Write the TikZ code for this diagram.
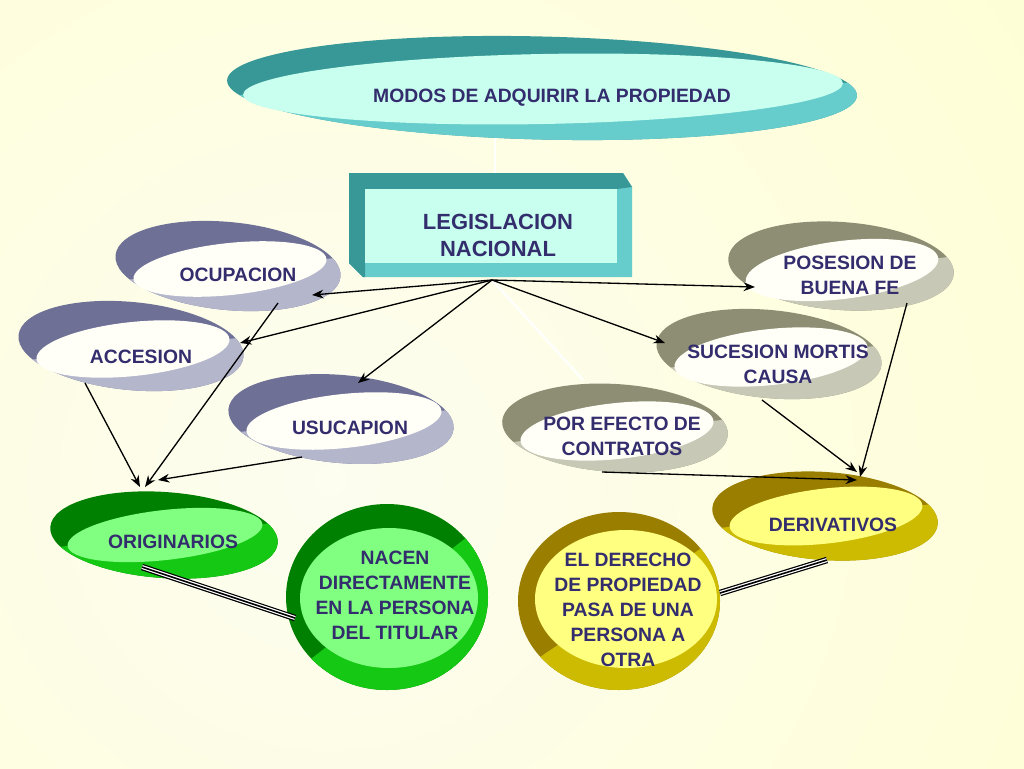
\documentclass[tikz,border=0pt]{standalone}
\usepackage{fontspec}
\setmainfont{Liberation Sans}
\usetikzlibrary{calc,arrows.meta}
\definecolor{bgin}{RGB}{253,253,240}
\definecolor{bgout}{RGB}{255,255,196}
\definecolor{textcol}{RGB}{51,45,110}
\definecolor{tealdark}{RGB}{56,152,152}
\definecolor{teallight}{RGB}{102,204,204}
\definecolor{tealinner}{RGB}{200,255,238}
\definecolor{bluedark}{RGB}{110,112,150}
\definecolor{bluelight}{RGB}{180,182,204}
\definecolor{blueinner}{RGB}{255,255,248}
\definecolor{olivedark}{RGB}{142,142,116}
\definecolor{olivelight}{RGB}{200,200,182}
\definecolor{oliveinner}{RGB}{255,255,248}
\definecolor{golddark}{RGB}{153,126,0}
\definecolor{goldlight}{RGB}{204,187,0}
\definecolor{goldinner}{RGB}{255,255,128}
\definecolor{greendark}{RGB}{0,128,0}
\definecolor{greenlight}{RGB}{20,200,20}
\definecolor{greeninner}{RGB}{128,255,128}
% #1 outer centre, #2 outer radii, #3 outer tilt, #4 inner centre,
% #5 inner radii, #6 inner tilt, #7 split angle, #8 colour family
\newcommand{\drawring}[8]{%
  \fill[#8dark, rotate around={#3:#1}] #1 ellipse [#2];
  \begin{scope}
    \clip[rotate around={#3:#1}] #1 ellipse [#2];
    \fill[#8light, rotate around={#7:#4}] ($#4+(-400,0)$) rectangle ($#4+(400,400)$);
  \end{scope}
  \fill[#8inner, rotate around={#6:#4}] #4 ellipse [#5];
}
\tikzset{
  lbl/.style={text=textcol, font=\bfseries\fontsize{11}{14.2}\selectfont, align=center, inner sep=0pt},
  biglbl/.style={text=textcol, font=\bfseries\fontsize{12.5}{15.3}\selectfont, align=center, inner sep=0pt},
  arr/.style={draw=black, line width=0.75pt, -{Stealth[length=6.5pt,width=5pt]}},
  paleline/.style={draw=white, line width=1.6pt},
  tripleouter/.style={draw=black, line width=3.7pt},
  triplemid/.style={draw=white, line width=2.3pt},
  tripleinner/.style={draw=black, line width=0.9pt},
}
\begin{document}
\begin{tikzpicture}[x=0.02cm, y=-0.02cm]
\useasboundingbox (0,0) rectangle (1024,768);
% background
\begin{scope}
  \clip (0,0) rectangle (1024,768);
  \shade[inner color=bgin, outer color=bgout] (330,480) circle (1400);
\end{scope}

% coordinates for connector ends
\coordinate (apex) at (492,280);
\coordinate (modosB) at (495,133);
\coordinate (legT) at (495,173);
\coordinate (ocupIn) at (312,295);
\coordinate (accIn) at (240,343);
\coordinate (usuIn) at (358,383);
\coordinate (posIn) at (755,287);
\coordinate (sucIn) at (665,343);
\coordinate (porIn) at (583,380);
\coordinate (ocupOut) at (278,303);
\coordinate (accOut) at (85,383);
\coordinate (usuOut) at (302,457);
\coordinate (origInA) at (145,487);
\coordinate (origInB) at (140,487);
\coordinate (origInC) at (158,480);
\coordinate (posOut) at (907,303);
\coordinate (sucOut) at (762,400);
\coordinate (porOut) at (602,472);
\coordinate (derInA) at (860,477);
\coordinate (derInB) at (857,472);
\coordinate (derInC) at (857,480);
\coordinate (origOut) at (142,567);
\coordinate (nacIn) at (295,618);
\coordinate (derOut) at (827,560);
\coordinate (elIn) at (720,593);

% pale connectors
\draw[paleline] (modosB) -- (legT);
\draw[paleline, draw opacity=0.8] (apex) -- (porIn);

% top ellipse
\drawring{(542,88)}{x radius=315, y radius=51.5}{-1.4}{(543,89)}{x radius=300, y radius=35}{1.1}{1.1}{teal}

% box
\fill[teallight] (349,173) -- (623,173) -- (632,187) -- (632,277) -- (363,277) -- (349,263) -- cycle;
\fill[tealdark] (349,173) -- (623,173) -- (632,187) -- (617,189) -- (365,189) -- (365,277) -- (363,277) -- (349,263) -- cycle;
\fill[tealinner] (365,189) rectangle (617,263);

% left ellipses
\drawring{(228,266)}{x radius=113, y radius=44}{-5.5}{(230,269)}{x radius=97, y radius=26}{6}{6}{blue}
\drawring{(131,346)}{x radius=113, y radius=44}{-5.5}{(133,349)}{x radius=97, y radius=27}{6}{6}{blue}
\drawring{(341,419)}{x radius=113, y radius=44}{-5}{(344,421)}{x radius=98, y radius=27}{6}{6}{blue}

% right ellipses
\drawring{(841,266)}{x radius=113, y radius=44}{-4}{(842,270)}{x radius=97, y radius=29}{7}{7}{olive}
\drawring{(769,354)}{x radius=113, y radius=44}{-5.5}{(771,357)}{x radius=97, y radius=28}{6}{6}{olive}
\drawring{(615,428)}{x radius=113, y radius=44}{-3.5}{(617,431)}{x radius=97, y radius=28}{6}{6}{olive}

% derivativos / originarios
\drawring{(825,516)}{x radius=113, y radius=44}{-4}{(826,516)}{x radius=97, y radius=27.5}{6.4}{6.4}{gold}
\drawring{(164,535)}{x radius=114, y radius=43}{-4}{(165,535)}{x radius=98, y radius=25}{6.4}{6.4}{green}

% round shapes
\drawring{(387,597)}{x radius=101, y radius=93}{0}{(389,598)}{x radius=89, y radius=70}{0}{38}{green}
\drawring{(619,601)}{x radius=101, y radius=89}{0}{(626,599)}{x radius=91, y radius=69}{0}{34}{gold}

% arrows
\draw[arr] (apex) -- (ocupIn);
\draw[arr] (apex) -- (accIn);
\draw[arr] (apex) -- (usuIn);
\draw[arr] (apex) -- (posIn);
\draw[arr] (apex) -- (sucIn);
\draw[arr] (ocupOut) -- (origInA);
\draw[arr] (accOut) -- (origInB);
\draw[arr] (usuOut) -- (origInC);
\draw[arr] (posOut) -- (derInA);
\draw[arr] (sucOut) -- (derInB);
\draw[arr] (porOut) -- (derInC);

% triple lines
\draw[tripleouter] (origOut) -- (nacIn);
\draw[triplemid] (origOut) -- (nacIn);
\draw[tripleinner] (origOut) -- (nacIn);
\draw[tripleouter] (elIn) -- (derOut);
\draw[triplemid] (elIn) -- (derOut);
\draw[tripleinner] (elIn) -- (derOut);

% labels
\node[lbl] (modos) at (552,98) {MODOS DE ADQUIRIR LA PROPIEDAD};
\node[biglbl] (leg) at (498,235) {LEGISLACION\\NACIONAL};
\node[lbl] (ocup) at (238,275) {OCUPACION};
\node[lbl] (acc) at (141,357) {ACCESION};
\node[lbl] (usu) at (350,428) {USUCAPION};
\node[lbl] (pos) at (850,275) {POSESION DE\\BUENA FE};
\node[lbl] (suc) at (778,364) {SUCESION MORTIS\\CAUSA};
\node[lbl] (por) at (622,436) {POR EFECTO DE\\CONTRATOS};
\node[lbl] (der) at (833,525) {DERIVATIVOS};
\node[lbl] (orig) at (173,542) {ORIGINARIOS};
\node[lbl] (nac) at (395,595) {NACEN\\DIRECTAMENTE\\EN LA PERSONA\\DEL TITULAR};
\node[lbl] (el) at (628,610) {EL DERECHO\\DE PROPIEDAD\\PASA DE UNA\\PERSONA A\\OTRA};
\end{tikzpicture}
\end{document}
